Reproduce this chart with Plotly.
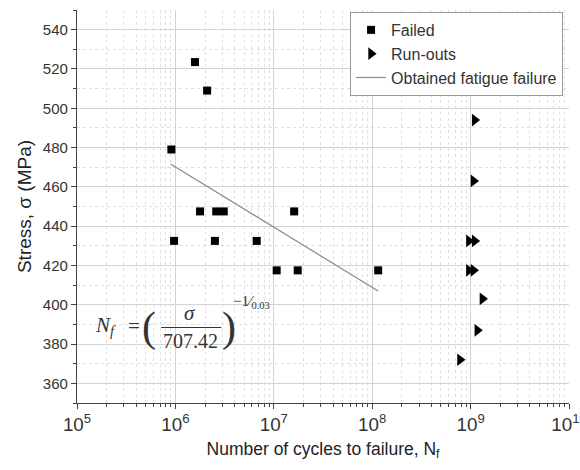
import plotly.graph_objects as go

# Failed specimens
failed_cycles = [1.58e6, 2.1e6, 9.1e5, 9.7e5, 1.78e6, 2.6e6, 3.1e6, 2.52e6, 6.7e6, 1.07e7, 1.61e7, 1.75e7, 1.15e8]
failed_stress = [523.5, 509, 479, 432.5, 447.5, 447.5, 447.5, 432.5, 432.5, 417.5, 447.5, 417.5, 417.5]

# Run-outs
runout_cycles = [1.1e9, 1.07e9, 9.6e8, 1.1e9, 9.6e8, 1.07e9, 1.32e9, 1.17e9, 7.8e8]
runout_stress = [494, 463, 432.5, 432.5, 417.5, 417.5, 403, 387, 372]

# Obtained fatigue failure line (end points)
fit_cycles = [9.0e5, 1.15e8]
fit_stress = [471.5, 407]

FONT = "Liberation Sans, Arial, sans-serif"
SERIF = "Liberation Serif, Times New Roman, serif"

fig = go.Figure()
fig.add_trace(go.Scatter(x=failed_cycles, y=failed_stress, mode="markers", name="Failed",
                         marker=dict(symbol="square", size=8, color="black")))
fig.add_trace(go.Scatter(x=runout_cycles, y=runout_stress, mode="markers", name="Run-outs",
                         marker=dict(symbol="triangle-right", size=11, color="black")))
fig.add_trace(go.Scatter(x=fit_cycles, y=fit_stress, mode="lines", name="Obtained fatigue failure",
                         line=dict(color="#8a8a8a", width=1.2)))

fig.update_layout(
    width=580, height=470,
    margin=dict(l=77, r=11, t=10, b=67),
    paper_bgcolor="white", plot_bgcolor="white",
    font=dict(family=FONT, size=15, color="#333"),
    legend=dict(x=0.555, y=0.995, xanchor="left", yanchor="top",
                bgcolor="white", bordercolor="#999", borderwidth=1,
                font=dict(size=16, color="#333"), tracegroupgap=0,
                itemwidth=30),
    showlegend=True,
)

fig.update_xaxes(
    type="log", range=[5, 10], dtick=1, exponentformat="power", showexponent="all",
    showline=True, linecolor="#444", linewidth=1.2,
    ticks="outside", ticklen=5, tickcolor="#444",
    showgrid=True, gridcolor="#d4d4d4", gridwidth=1,
    zeroline=False, ticklabeloverflow="allow", automargin=False,
    tickfont=dict(size=15, color="#333"),
    minor=dict(dtick="D1", ticks="outside", ticklen=3, tickcolor="#444",
               showgrid=True, gridcolor="#e0e0e0", griddash="dot"),
    title=dict(text="Number of cycles to failure, N<sub>f</sub>", font=dict(size=17.5, color="#222"), standoff=8),
)
fig.update_yaxes(
    range=[350, 550], dtick=20, tick0=0,
    showline=True, linecolor="#444", linewidth=1.2,
    ticks="outside", ticklen=5, tickcolor="#444",
    showgrid=True, gridcolor="#d4d4d4", gridwidth=1,
    zeroline=False, automargin=False,
    tickfont=dict(size=15, color="#333"),
    minor=dict(dtick=10, ticks="outside", ticklen=3, tickcolor="#444",
               showgrid=True, gridcolor="#e0e0e0", griddash="dot"),
    title=dict(text="Stress, σ (MPa)", font=dict(size=19, color="#222"), standoff=6),
)

# Equation annotation built from text pieces (paper-pixel positions)
def px(xp):
    return (xp - 77) / 491.0
def py(yp):
    return (403 - yp) / 393.0

ann = [
    dict(text="<i>N<sub>f</sub></i>", x=px(105), y=py(326), size=21),
    dict(text="=", x=px(134), y=py(326), size=21),
    dict(text="(", x=px(149), y=py(327), size=42),
    dict(text="<i>σ</i>", x=px(190), y=py(313), size=21),
    dict(text="707.42", x=px(190), y=py(341), size=20),
    dict(text=")", x=px(229), y=py(327), size=42),
    dict(text="−1⁄<sub>0.03</sub>", x=px(251), y=py(302), size=15),
]
for a in ann:
    fig.add_annotation(text=a["text"], x=a["x"], y=a["y"], xref="paper", yref="paper",
                       showarrow=False, xanchor="center", yanchor="middle",
                       font=dict(family=SERIF, size=a["size"], color="#333"))
fig.add_shape(type="line", xref="paper", yref="paper",
              x0=px(161), x1=px(221), y0=py(327.5), y1=py(327.5),
              line=dict(color="#333", width=1.2))

fig.write_html("out.html")
